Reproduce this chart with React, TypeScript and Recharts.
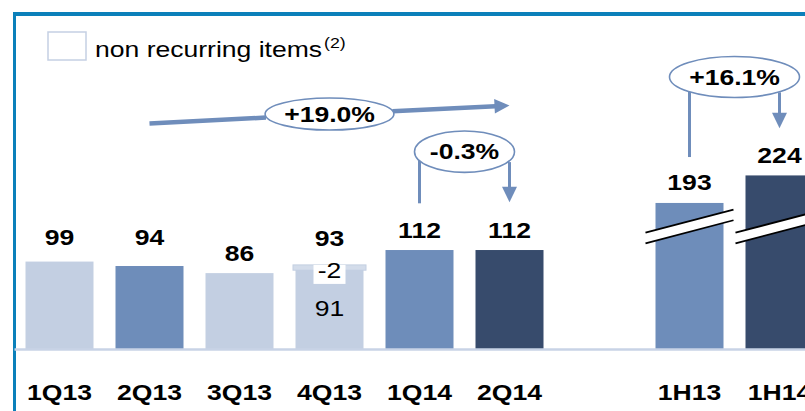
import React from 'react';
import { BarChart, Bar, XAxis, YAxis, LabelList, ReferenceLine, ReferenceDot } from 'recharts';

// ---------- data ----------
const categories = ['1Q13', '2Q13', '3Q13', '4Q13', '1Q14', '2Q14', '', '1H13', '1H14'];
const netIncome = [99, 94, 86, 93, 112, 112, null, 193, 224];
const nonRecurring = [null, null, null, -2, null, null, null, null, null];
const axisBreakCut = [0, 0, 0, 0, 0, 0, 0, 28, 28];
const growthRates = ['+19.0%', '-0.3%', '+16.1%'];

// ---------- styles ----------
const barColors = ['#c3cfe2', '#6e8dba', '#c3cfe2', '#c3cfe2', '#6e8dba', '#374b6c', '#ffffff', '#6e8dba', '#374b6c'];
const labelLift = [17, 21, 12.5, 21, 12.5, 12.5, 0, 12.5, 12.5];
const ANNO = '#6f8dbb';
const FONT = '"Liberation Sans", Arial, Helvetica, sans-serif';
const SX = 1.18;
const BREAK_LEVEL = 131.5;
const TICK_BASELINE = 50;

const rows = categories.map((cat, i) => {
  const total = netIncome[i];
  const nr = nonRecurring[i] ?? 0;
  return {
    cat,
    idx: i,
    base: total == null ? null : total - Math.abs(nr) - axisBreakCut[i],
    cap: total == null ? null : Math.abs(nr),
    total,
    nonRec: nonRecurring[i],
    recurring: total == null ? null : total - Math.abs(nr),
  };
});

function SText({ x, y, size = 22.5, weight = 'bold', anchor = 'middle', children }: any) {
  return (
    <text
      transform={`translate(${x},${y}) scale(${SX},1)`}
      textAnchor={anchor}
      fontFamily={FONT}
      fontSize={size}
      fontWeight={weight}
      fill="#000"
    >
      {children}
    </text>
  );
}

function BaseShape(props: any) {
  const { x, y, width, height, payload } = props;
  if (payload == null || payload.base == null) return null;
  const i = payload.idx;
  const color = barColors[i];
  const els: any[] = [<rect key="r" x={x} y={y} width={width} height={height} fill={color} />];
  if (axisBreakCut[i] > 0 && payload.base > 0) {
    const ppu = height / payload.base;
    const baseline = y + height;
    const yl = baseline - BREAK_LEVEL * ppu;
    const xl = x - 10;
    const xr = x + width + 10;
    const yr = yl - 0.262 * (xr - xl);
    const gap = 10.6;
    els.push(
      <polygon key="p" points={`${xl},${yl} ${xr},${yr} ${xr},${yr + gap} ${xl},${yl + gap}`} fill="#fff" />,
      <line key="l1" x1={xl} y1={yl} x2={xr} y2={yr} stroke="#000" strokeWidth={1.8} />,
      <line key="l2" x1={xl} y1={yl + gap} x2={xr} y2={yr + gap} stroke="#000" strokeWidth={1.8} />
    );
  }
  return <g>{els}</g>;
}

function CapShape(props: any) {
  const { x, y, width, height } = props;
  if (!height || height <= 0) return null;
  return (
    <rect x={x - 2.5} y={y - 2} width={width + 5} height={height + 3.5} fill="#d3dcea" stroke="#c3cfe2" strokeWidth={1} />
  );
}

function TopLabel(props: any) {
  const { x, y, width, value, index } = props;
  if (value == null) return null;
  return <SText x={x + width / 2} y={y - labelLift[index]}>{value}</SText>;
}

function NonRecLabel(props: any) {
  const { x, y, width, value } = props;
  if (value == null) return null;
  const cx = x + width / 2;
  return (
    <g>
      <rect x={cx - 16} y={y - 2} width={32} height={19} fill="#fff" />
      <SText x={cx} y={y + 11} weight="normal">{value}</SText>
    </g>
  );
}

function RecurringLabel(props: any) {
  const { x, y, width, value, index } = props;
  if (value == null || nonRecurring[index] == null) return null;
  return <SText x={x + width / 2} y={y + 47.5} weight="normal">{value}</SText>;
}

function CatTick(props: any) {
  const { x, y, payload } = props;
  if (!payload || !payload.value) return null;
  return <SText x={x} y={y + TICK_BASELINE}>{payload.value}</SText>;
}

function makeArrow(w: number, head: number, headW: number) {
  return (p: any) => {
    const { x1, y1, x2, y2 } = p;
    const dx = x2 - x1;
    const dy = y2 - y1;
    const len = Math.sqrt(dx * dx + dy * dy) || 1;
    const ux = dx / len;
    const uy = dy / len;
    const bx = x2 - ux * head;
    const by = y2 - uy * head;
    const px = -uy * headW / 2;
    const py = ux * headW / 2;
    return (
      <g>
        <line x1={x1} y1={y1} x2={bx + ux} y2={by + uy} stroke={ANNO} strokeWidth={w} />
        <polygon points={`${x2},${y2} ${bx + px},${by + py} ${bx - px},${by - py}`} fill={ANNO} />
      </g>
    );
  };
}

function plainLine(w: number) {
  return (p: any) => <line x1={p.x1} y1={p.y1} x2={p.x2} y2={p.y2} stroke={ANNO} strokeWidth={w} />;
}

function makeBubble(rx: number, ry: number, text: string, dy: number) {
  return (p: any) => (
    <g>
      <ellipse cx={p.cx} cy={p.cy} rx={rx} ry={ry} fill="#fff" stroke={ANNO} strokeWidth={1.6} />
      <SText x={p.cx} y={p.cy + dy}>{text}</SText>
    </g>
  );
}

function LegendBox() {
  return (
    <svg width={420} height={70} style={{ position: 'absolute', left: 0, top: 0 }}>
      <rect x={48} y={32} width={38} height={28} fill="#fff" stroke="#c5d0e3" strokeWidth={1.5} />
      <SText x={95} y={56.7} weight="normal" anchor="start">non recurring items</SText>
      <SText x={324} y={48} size={15} weight="normal" anchor="start">(2)</SText>
    </svg>
  );
}

export default function App() {
  return (
    <div
      style={{
        position: 'fixed',
        left: 0,
        top: 0,
        width: 805,
        height: 411,
        overflow: 'hidden',
        background: '#fff',
      }}
    >
      <div
        style={{
          position: 'absolute',
          left: 13,
          top: 12,
          width: 900,
          height: 500,
          borderTop: '4px solid #0b80ba',
          borderLeft: '3.5px solid #0b80ba',
        }}
      />
      <div style={{ position: 'absolute', left: 0, top: 0 }}>
        <BarChart width={830} height={411} data={rows} margin={{ top: 12, right: 5.5, bottom: 11.5, left: 14.5 }}>
          <XAxis
            xAxisId="c"
            dataKey="cat"
            type="category"
            height={50}
            tickLine={false}
            tickSize={0}
            tickMargin={0}
            axisLine={{ stroke: '#c8d3e6', strokeWidth: 2.5 }}
            tick={<CatTick />}
            interval={0}
          />
          <XAxis xAxisId="n" dataKey="idx" type="number" domain={[-0.5, 8.5]} hide allowDataOverflow />
          <YAxis hide type="number" domain={[0, 380]} allowDataOverflow />
          <Bar xAxisId="c" dataKey="base" stackId="s" barSize={68} fill="#c3cfe2" shape={BaseShape} isAnimationActive={false}>
            <LabelList dataKey="recurring" content={RecurringLabel} />
          </Bar>
          <Bar xAxisId="c" dataKey="cap" stackId="s" barSize={68} fill="#d3dcea" shape={CapShape} isAnimationActive={false}>
            <LabelList dataKey="total" content={TopLabel} />
            <LabelList dataKey="nonRec" content={NonRecLabel} />
          </Bar>

          {/* +19.0% trend arrow */}
          <ReferenceLine xAxisId="n" segment={[{ x: 1, y: 254.4 }, { x: 2.294, y: 261.1 }]} shape={plainLine(4.5)} ifOverflow="visible" />
          <ReferenceLine xAxisId="n" segment={[{ x: 3.699, y: 268.2 }, { x: 5, y: 274.7 }]} shape={makeArrow(4.5, 15, 14.6)} ifOverflow="visible" />
          {/* -0.3% */}
          <ReferenceLine xAxisId="n" segment={[{ x: 4, y: 214 }, { x: 4, y: 164.6 }]} shape={plainLine(3)} ifOverflow="visible" />
          <ReferenceLine xAxisId="n" segment={[{ x: 5, y: 211 }, { x: 5, y: 165.8 }]} shape={makeArrow(3, 15.5, 15)} ifOverflow="visible" />
          {/* +16.1% */}
          <ReferenceLine xAxisId="n" segment={[{ x: 7, y: 290.8 }, { x: 7, y: 216.7 }]} shape={plainLine(3)} ifOverflow="visible" />
          <ReferenceLine xAxisId="n" segment={[{ x: 8, y: 289.5 }, { x: 8, y: 249 }]} shape={makeArrow(3, 15.5, 15)} ifOverflow="visible" />

          <ReferenceDot xAxisId="n" x={3} y={265.1} r={1} shape={makeBubble(64.4, 16, growthRates[0], 8)} ifOverflow="visible" />
          <ReferenceDot xAxisId="n" x={4.5} y={222.7} r={1} shape={makeBubble(50, 20.7, growthRates[1], 7.5)} ifOverflow="visible" />
          <ReferenceDot xAxisId="n" x={7.5} y={306.8} r={1} shape={makeBubble(65, 20.5, growthRates[2], 8)} ifOverflow="visible" />
        </BarChart>
      </div>
      <LegendBox />
    </div>
  );
}
